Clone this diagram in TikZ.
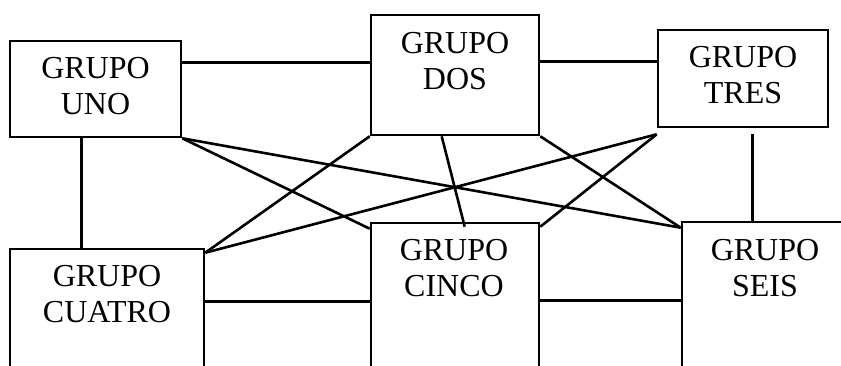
\documentclass[tikz,border=0pt]{standalone}
\usepackage{fontspec}
\setmainfont{Liberation Serif}
\usetikzlibrary{fit,calc}
\begin{document}
\begin{tikzpicture}[x=0.5pt,y=-0.5pt,
  box/.style={draw,line width=1.3pt,inner sep=0pt},
  lab/.style={align=center,font=\fontsize{16pt}{18pt}\selectfont,inner sep=0pt},
  conn/.style={line width=1.3pt}]
\useasboundingbox (0,0) rectangle (841,365);
\clip (0,0) rectangle (841,365);
\fill[white] (0,0) rectangle (841,365);
% boxes
\node[box,fit={(10,41) (181,137)}] (uno) {};
\node[box,fit={(371,15) (539,135)}] (dos) {};
\node[box,fit={(658,30) (828,127)}] (tres) {};
\node[box,fit={(10,249) (204,385)}] (cuatro) {};
\node[box,fit={(371,223) (539,385)}] (cinco) {};
\node[box,fit={(682,222) (860,385)}] (seis) {};
% labels
\node[lab] (tuno) at (95.5,86) {GRUPO\\UNO};
\node[lab] (tdos) at (455,61) {GRUPO\\DOS};
\node[lab] (ttres) at (743,75) {GRUPO\\TRES};
\node[lab] (tcuatro) at (107,294) {GRUPO\\CUATRO};
\node[lab] (tcinco) at (454,268) {GRUPO\\CINCO};
\node[lab] (tseis) at (765,268) {GRUPO\\SEIS};
% straight connectors
\draw[conn] ($(uno.north east)+(0,23)$) -- ($(dos.north west)+(0,49)$);
\draw[conn] ($(dos.north east)+(0,48)$) -- ($(tres.north west)+(0,33)$);
\draw[conn] ($(uno.south west)+(73,0)$) -- ($(cuatro.north west)+(73,0)$);
\draw[conn] ($(tres.south west)+(96,6)$) -- ($(seis.north west)+(72,0)$);
\draw[conn] ($(cuatro.north east)+(0,54)$) -- ($(cinco.north west)+(0,80)$);
\draw[conn] ($(cinco.north east)+(0,79)$) -- ($(seis.north west)+(0,80)$);
% diagonal connectors
\draw[conn] (uno.south east) -- ($(cinco.north west)+(0,7)$);
\draw[conn] (uno.south east) -- ($(seis.north west)+(0,7)$);
\draw[conn] (dos.south west) -- ($(cuatro.north east)+(0,5)$);
\draw[conn] ($(dos.south west)+(72,0)$) -- ($(cinco.north west)+(95,5)$);
\draw[conn] (dos.south east) -- ($(seis.north west)+(0,7)$);
\draw[conn] ($(tres.south west)+(0,6)$) -- ($(cuatro.north east)+(0,5)$);
\draw[conn] ($(tres.south west)+(0,6)$) -- ($(cinco.north east)+(0,5)$);
\end{tikzpicture}
\end{document}
